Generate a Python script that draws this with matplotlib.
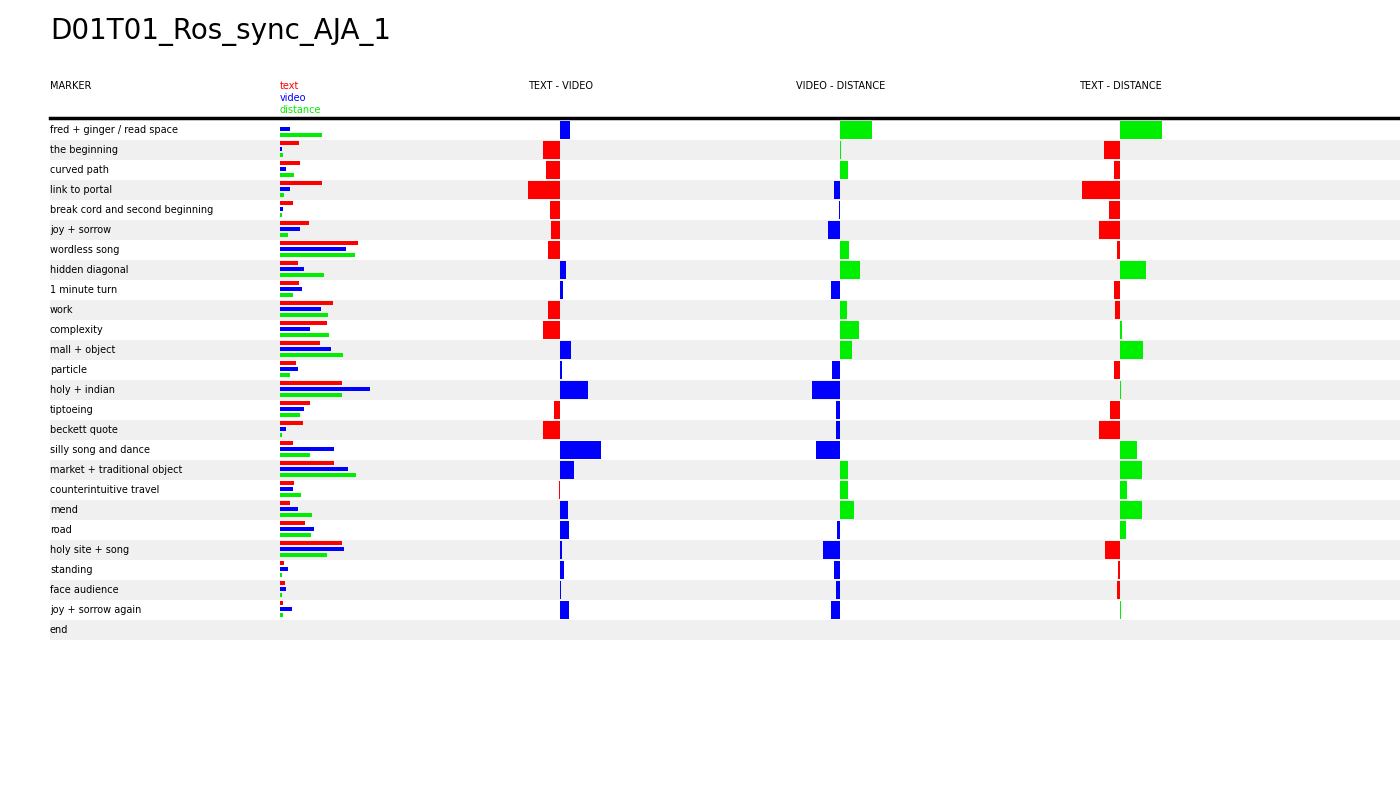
import matplotlib.pyplot as plt
from matplotlib.patches import Rectangle

markers = ["fred + ginger / read space", "the beginning", "curved path", "link to portal",
           "break cord and second beginning", "joy + sorrow", "wordless song", "hidden diagonal",
           "1 minute turn", "work", "complexity", "mall + object", "particle", "holy + indian",
           "tiptoeing", "beckett quote", "silly song and dance", "market + traditional object",
           "counterintuitive travel", "mend", "road", "holy site + song", "standing",
           "face audience", "joy + sorrow again", "end"]
text = [0, 19, 20, 42, 13, 29, 78, 18, 19, 53, 47, 40, 16, 62, 30, 23, 13, 54, 14, 10, 25, 62, 4, 5, 3, 0]
video = [10, 2, 6, 10, 3, 20, 66, 24, 22, 41, 30, 51, 18, 90, 24, 6, 54, 68, 13, 18, 34, 64, 8, 6, 12, 0]
distance = [42, 3, 14, 4, 2, 8, 75, 44, 13, 48, 49, 63, 10, 62, 20, 2, 30, 76, 21, 32, 31, 47, 2, 2, 3, 0]

RED, BLUE, GREEN = "#ff0000", "#0000ff", "#00ee00"

fig = plt.figure(figsize=(14, 8), dpi=100)
ax = fig.add_axes([0, 0, 1, 1])
ax.set_xlim(0, 1400)
ax.set_ylim(800, 0)
ax.axis("off")

ax.text(50, 32, "D01T01_Ros_sync_AJA_1", fontsize=20, va="center", ha="left")
for x, h in [(50, "MARKER"), (528, "TEXT - VIDEO"), (796, "VIDEO - DISTANCE"), (1079, "TEXT - DISTANCE")]:
    ax.text(x, 86, h, fontsize=7, va="center")
for i, (lbl, c) in enumerate([("text", RED), ("video", BLUE), ("distance", GREEN)]):
    ax.text(280, 86 + 12 * i, lbl, fontsize=7, va="center", color=c)
ax.plot([50, 1400], [117.5, 117.5], color="black", lw=2.5)

top = 120
for i, name in enumerate(markers):
    y = top + 20 * i
    if i % 2 == 1:
        ax.add_patch(Rectangle((50, y), 1350, 20, color="#f0f0f0", lw=0))
    ax.text(50, y + 10, name, fontsize=7, va="center")
    # small bars
    ax.barh(y + 3, text[i], height=4, left=280, color=RED)
    ax.barh(y + 9, video[i], height=4, left=280, color=BLUE)
    ax.barh(y + 15, distance[i], height=4, left=280, color=GREEN)
    if i == len(markers) - 1:
        continue
    # diverging comparisons
    for cx, a, b, ca, cb in [(560, text[i], video[i], RED, BLUE),
                             (840, video[i], distance[i], BLUE, GREEN),
                             (1120, text[i], distance[i], RED, GREEN)]:
        d = b - a
        if d >= 0:
            ax.barh(y + 10, max(d, 0.6), height=18, left=cx, color=cb)
        else:
            ax.barh(y + 10, d, height=18, left=cx, color=ca)

fig.savefig("out.png", dpi=100)
